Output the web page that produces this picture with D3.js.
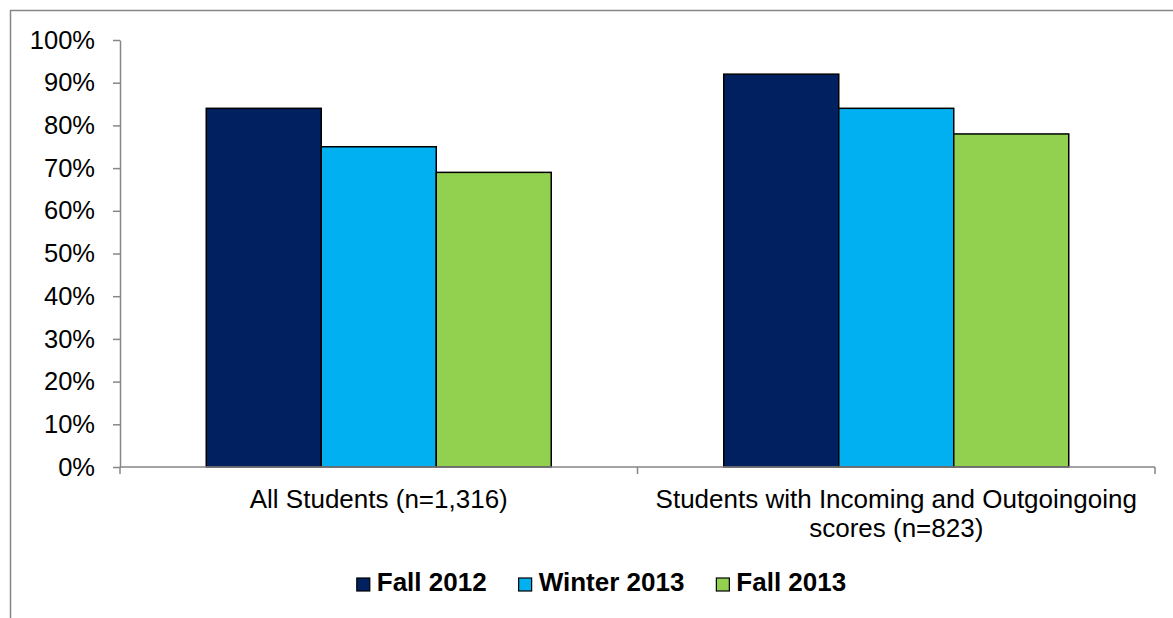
<!DOCTYPE html>
<html>
<head>
<meta charset="utf-8">
<script src="https://cdn.jsdelivr.net/npm/d3@7"></script>
<style>
  html, body { margin: 0; padding: 0; background: #fff; }
  svg { display: block; }
  text { font-family: "Liberation Sans", Arial, sans-serif; fill: #000; }
</style>
</head>
<body>
<svg id="chart" width="1173" height="618"></svg>
<script>
// ---- data ----
const categories = ["All Students (n=1,316)", "Students with Incoming and Outgoingoing scores (n=823)"];
const categoryLines = [["All Students (n=1,316)"], ["Students with Incoming and Outgoingoing", "scores (n=823)"]];
const seriesNames = ["Fall 2012", "Winter 2013", "Fall 2013"];
const fall2012 = [0.84, 0.92];
const winter2013 = [0.75, 0.84];
const fall2013 = [0.69, 0.78];
const seriesValues = [fall2012, winter2013, fall2013];
const seriesColors = ["#002060", "#00B0F0", "#92D050"];
const yTicks = [0, 0.1, 0.2, 0.3, 0.4, 0.5, 0.6, 0.7, 0.8, 0.9, 1.0];

// ---- layout ----
const W = 1173, H = 618;
const plot = { left: 120, right: 1155, top: 40, bottom: 467 };
const axisColor = "#868686";

const svg = d3.select("#chart");

// outer frame (only top/left visible)
svg.append("rect")
  .attr("x", 10.5).attr("y", 10.5)
  .attr("width", W + 20).attr("height", H + 20)
  .attr("fill", "none").attr("stroke", axisColor).attr("stroke-width", 1.5);

const y = d3.scaleLinear().domain([0, 1]).range([plot.bottom, plot.top]);
const x0 = d3.scaleBand().domain(categories).range([plot.left, plot.right]).padding(0);
const x1 = d3.scaleBand().domain(seriesNames).range([0, x0.bandwidth()])
  .paddingInner(0).paddingOuter(0.75);

// bars
const rows = [];
categories.forEach((c, ci) => {
  seriesNames.forEach((s, si) => {
    rows.push({ cat: c, series: s, value: seriesValues[si][ci], color: seriesColors[si] });
  });
});

svg.append("g").selectAll("rect")
  .data(rows)
  .join("rect")
  .attr("x", d => x0(d.cat) + x1(d.series))
  .attr("y", d => y(d.value))
  .attr("width", x1.bandwidth())
  .attr("height", d => y(0) - y(d.value))
  .attr("fill", d => d.color)
  .attr("stroke", "#000")
  .attr("stroke-width", 1.5);

// y axis
const yAxis = d3.axisLeft(y)
  .tickValues(yTicks)
  .tickFormat(d3.format(".0%"))
  .tickSize(7)
  .tickSizeOuter(0)
  .tickPadding(18);
const gy = svg.append("g")
  .attr("transform", `translate(${plot.left},0)`)
  .call(yAxis);
gy.select(".domain").attr("stroke", axisColor).attr("stroke-width", 1.5);
gy.selectAll(".tick line").attr("stroke", axisColor).attr("stroke-width", 1.5);
gy.selectAll(".tick text")
  .style("font-family", '"Liberation Sans", Arial, sans-serif')
  .style("font-size", "25.5px")
  .attr("fill", "#000");

// x axis line + ticks at category boundaries
const boundaries = [plot.left].concat(categories.map(c => x0(c) + x0.bandwidth()));
svg.append("line")
  .attr("x1", plot.left).attr("x2", plot.right)
  .attr("y1", y(0)).attr("y2", y(0))
  .attr("stroke", axisColor).attr("stroke-width", 1.5);
svg.append("g").selectAll("line")
  .data(boundaries)
  .join("line")
  .attr("x1", d => d).attr("x2", d => d)
  .attr("y1", y(0)).attr("y2", y(0) + 7)
  .attr("stroke", axisColor).attr("stroke-width", 1.5);

// category labels
const catG = svg.append("g");
categories.forEach((c, ci) => {
  const t = catG.append("text")
    .attr("x", x0(c) + x0.bandwidth() / 2)
    .attr("y", 508)
    .attr("text-anchor", "middle")
    .style("font-size", "26px");
  categoryLines[ci].forEach((line, li) => {
    t.append("tspan")
      .attr("x", x0(c) + x0.bandwidth() / 2)
      .attr("dy", li === 0 ? 0 : 29)
      .text(line);
  });
});

// legend
const legend = svg.append("g");
const items = legend.selectAll("g")
  .data(seriesNames)
  .join("g");
items.append("rect")
  .attr("width", 13).attr("height", 13)
  .attr("y", -13)
  .attr("fill", (d, i) => seriesColors[i])
  .attr("stroke", "#000").attr("stroke-width", 1.2);
items.append("text")
  .attr("x", 20)
  .attr("y", 0)
  .style("font-size", "26px")
  .style("font-weight", "bold")
  .text(d => d);
let widths = [];
items.each(function () {
  widths.push(20 + d3.select(this).select("text").node().getComputedTextLength());
});
const gap = 32;
const total = d3.sum(widths) + gap * (widths.length - 1);
let cx = 601.5 - total / 2;
items.attr("transform", (d, i) => {
  const tx = cx;
  cx += widths[i] + gap;
  return `translate(${tx},591)`;
});
</script>
</body>
</html>
